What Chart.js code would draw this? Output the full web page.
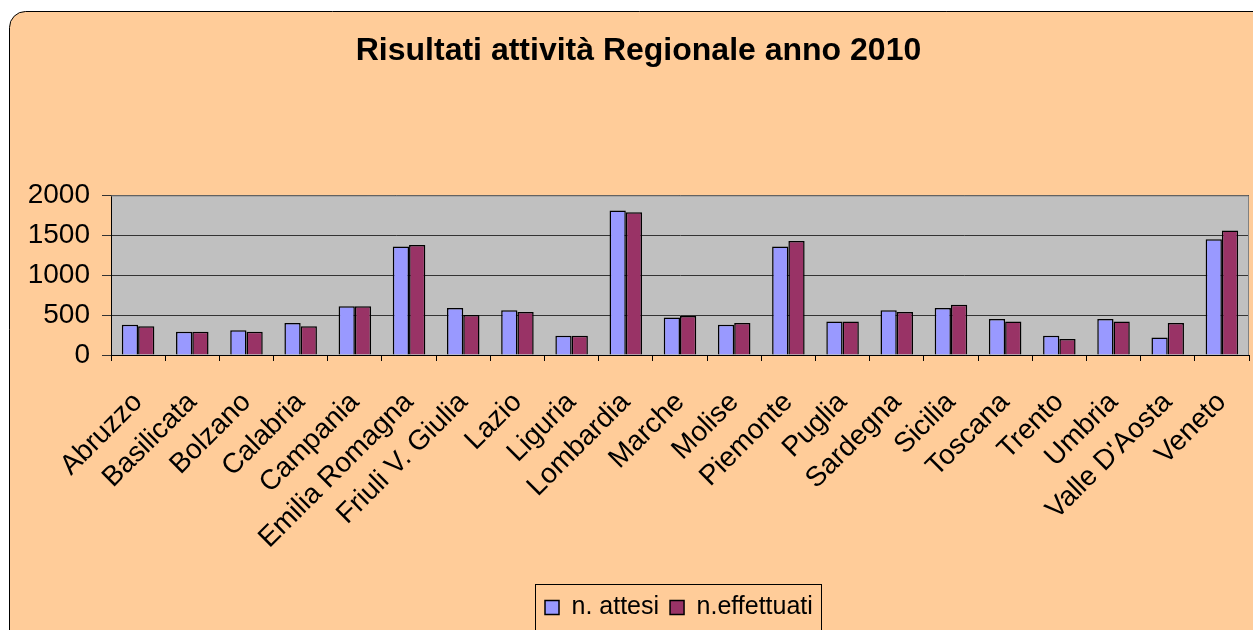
<!DOCTYPE html>
<html lang="it">
<head>
    <meta charset="UTF-8">
    <title>Risultati attività Regionale anno 2010</title>
    <script src="https://cdn.jsdelivr.net/npm/chart.js"></script>
    <style>
        body {
            margin: 0;
            padding: 0;
            background-color: #ffffff;
        }
        .chart-container {
            width: 1253px;
            height: 630px;
            position: relative;
        }
    </style>
</head>
<body>
    <div class="chart-container">
        <canvas id="myChart"></canvas>
    </div>

    <script>
        // Data
        const regions = ['Abruzzo', 'Basilicata', 'Bolzano', 'Calabria', 'Campania', 'Emilia Romagna',
            'Friuli V. Giulia', 'Lazio', 'Liguria', 'Lombardia', 'Marche', 'Molise', 'Piemonte', 'Puglia',
            'Sardegna', 'Sicilia', 'Toscana', 'Trento', 'Umbria', "Valle D'Aosta", 'Veneto'];
        const attesi = [380, 290, 310, 400, 610, 1360, 590, 560, 240, 1810, 470, 380, 1360, 420,
            560, 590, 450, 240, 450, 220, 1450];
        const effettuati = [360, 290, 290, 360, 610, 1380, 500, 540, 240, 1790, 490, 400, 1430, 420,
            540, 630, 420, 200, 420, 400, 1560];
        const yTicks = [0, 500, 1000, 1500, 2000];

        const FONT = "'Liberation Sans', Arial, sans-serif";

        // Peach rounded panel, grey plot area, plot frame and legend box
        const decorations = {
            id: 'decorations',
            afterUpdate(chart) {
                // move the legend a little right of centre, like the original
                const lg = chart.legend;
                const boxes = lg.legendHitBoxes;
                if (!boxes || !boxes.length) return;
                const dx = 545 - Math.min(...boxes.map(b => b.left));
                lg.left += dx;
                lg.right += dx;
                boxes.forEach(b => { b.left += dx; });
            },
            beforeDraw(chart) {
                const c = chart.ctx;
                const a = chart.chartArea;
                c.save();
                c.fillStyle = '#ffcc99';
                c.strokeStyle = '#000';
                c.lineWidth = 1;
                c.beginPath();
                c.roundRect(9.5, 11.5, 1270, 650, 16);
                c.fill();
                c.stroke();
                c.fillStyle = '#c0c0c0';
                c.fillRect(a.left, a.top, a.right - a.left, a.bottom - a.top);
                c.restore();
            },
            afterDraw(chart) {
                const c = chart.ctx;
                const a = chart.chartArea;
                c.save();
                c.strokeStyle = '#808080';
                c.lineWidth = 1;
                c.beginPath();
                c.moveTo(a.left, a.top + 0.5);
                c.lineTo(a.right - 0.5, a.top + 0.5);
                c.lineTo(a.right - 0.5, a.bottom);
                c.stroke();
                const boxes = chart.legend.legendHitBoxes;
                if (boxes && boxes.length) {
                    const l = Math.min(...boxes.map(b => b.left)) - 10;
                    const r = Math.max(...boxes.map(b => b.left + b.width)) + 8;
                    const t = chart.legend.top;
                    c.strokeStyle = '#000';
                    c.strokeRect(Math.round(l) + 0.5, Math.round(t) + 0.5, Math.round(r - l), 60);
                }
                c.restore();
            }
        };

        const ctx = document.getElementById('myChart').getContext('2d');
        const myChart = new Chart(ctx, {
            type: 'bar',
            data: {
                labels: regions,
                datasets: [{
                    label: 'n. attesi',
                    data: attesi,
                    backgroundColor: '#9999ff',
                    borderColor: '#000000',
                    borderWidth: 1.5
                }, {
                    label: 'n.effettuati',
                    data: effettuati,
                    backgroundColor: '#993366',
                    borderColor: '#000000',
                    borderWidth: 1.5
                }]
            },
            options: {
                responsive: true,
                maintainAspectRatio: false,
                animation: false,
                datasets: {
                    bar: { categoryPercentage: 0.6, barPercentage: 1.0 }
                },
                layout: {
                    padding: { left: 28, right: 4, top: 0, bottom: 0 }
                },
                scales: {
                    x: {
                        offset: true,
                        grid: {
                            offset: true,
                            drawOnChartArea: false,
                            color: '#000',
                            tickLength: 6
                        },
                        border: { color: '#000', width: 1 },
                        ticks: {
                            color: '#000',
                            font: { family: FONT, size: 28 },
                            maxRotation: 45,
                            minRotation: 45,
                            autoSkip: false,
                            padding: 25
                        },
                        afterFit(scale) {
                            scale.height = 229;
                            scale.paddingRight = 0;
                            scale.paddingLeft = 0;
                        }
                    },
                    y: {
                        min: 0,
                        max: 2000,
                        afterBuildTicks(scale) { scale.ticks = yTicks.map(v => ({ value: v })); },
                        grid: {
                            color: '#333333',
                            tickLength: 9
                        },
                        border: { color: '#000', width: 1 },
                        ticks: {
                            color: '#000',
                            font: { family: FONT, size: 28 },
                            padding: 12,
                            callback: v => String(v)
                        },
                        afterFit(scale) { scale.width = 83; }
                    }
                },
                plugins: {
                    title: {
                        display: true,
                        text: 'Risultati attività Regionale anno 2010',
                        color: '#000',
                        font: { family: FONT, size: 32, weight: 'bold' },
                        padding: { top: 32, bottom: 125 }
                    },
                    legend: {
                        position: 'bottom',
                        labels: {
                            color: '#000',
                            font: { family: FONT, size: 25 },
                            boxWidth: 14,
                            boxHeight: 14,
                            padding: 11
                        }
                    },
                    tooltip: { enabled: false }
                }
            },
            plugins: [decorations]
        });
    </script>
</body>
</html>
